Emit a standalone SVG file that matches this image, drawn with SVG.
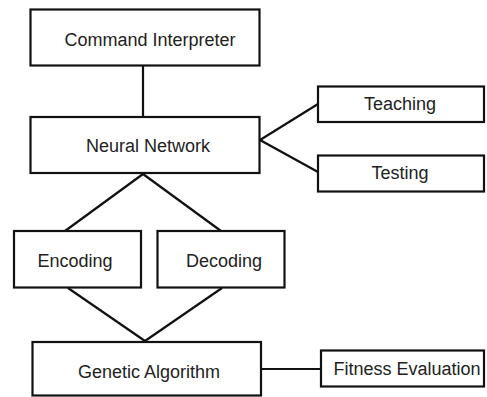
<svg xmlns="http://www.w3.org/2000/svg" width="487" height="397" viewBox="0 0 487 397">
<style>
rect{fill:#fff;stroke:#111;stroke-width:2.2}
text{font-family:"Liberation Sans",Arial,sans-serif;font-size:18px;fill:#222;text-anchor:middle}
#connectors line{stroke:#111;stroke-width:2.2}
</style>
<rect width="487" height="397" fill="#fff" style="stroke:none"/>
<g id="connectors">
<line x1="143" y1="66" x2="143" y2="117"/>
<line x1="260" y1="140" x2="318" y2="104"/>
<line x1="260" y1="140" x2="318" y2="172"/>
<line x1="143" y1="174" x2="65" y2="231"/>
<line x1="143" y1="174" x2="221" y2="231"/>
<line x1="68" y1="288" x2="145" y2="341"/>
<line x1="222" y1="288" x2="145" y2="341"/>
<line x1="261" y1="369" x2="321" y2="369"/>
</g>
<g id="command-interpreter"><rect x="30.5" y="9.5" width="229" height="56"/><text x="150" y="46">Command Interpreter</text></g>
<g id="neural-network"><rect x="30.5" y="117" width="229" height="56"/><text x="148" y="152">Neural Network</text></g>
<g id="teaching"><rect x="318" y="86.5" width="166" height="35.5"/><text x="400" y="110">Teaching</text></g>
<g id="testing"><rect x="318" y="155.5" width="166" height="36"/><text x="400" y="179">Testing</text></g>
<g id="encoding"><rect x="14" y="231" width="127" height="56.5"/><text x="75" y="267">Encoding</text></g>
<g id="decoding"><rect x="157.5" y="231" width="127" height="56.5"/><text x="224" y="267">Decoding</text></g>
<g id="genetic-algorithm"><rect x="32.5" y="342" width="228.5" height="53.5"/><text x="149" y="378">Genetic Algorithm</text></g>
<g id="fitness-evaluation"><rect x="321" y="350.5" width="163" height="36"/><text x="407" y="375">Fitness Evaluation</text></g>
</svg>
